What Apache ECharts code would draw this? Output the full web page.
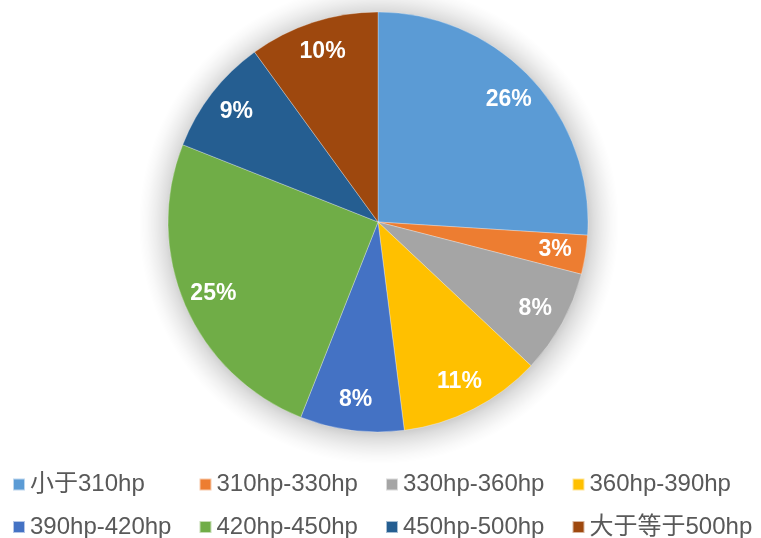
<!DOCTYPE html>
<html>
<head>
<meta charset="utf-8">
<script src="https://cdn.jsdelivr.net/npm/echarts@6/dist/echarts.min.js"></script>
<style>
  html, body { margin: 0; padding: 0; background: #fff; }
  #chart { width: 761px; height: 538px; }
</style>
</head>
<body>
<div id="chart"></div>
<script>
// Horsepower bands and their share (%)
const categories = ['小于310hp', '310hp-330hp', '330hp-360hp', '360hp-390hp',
                    '390hp-420hp', '420hp-450hp', '450hp-500hp', '大于等于500hp'];
const shares = [26, 3, 8, 11, 8, 25, 9, 10];
const colors = ['#5B9BD5', '#ED7D31', '#A5A5A5', '#FFC000',
                '#4472C4', '#70AD47', '#255E91', '#9E480E'];

const center = [378, 222];
const R = 210;
const haloWidth = 30;     // width of the soft shadow around the disc
const labelRatio = 0.84;  // labels sit at this fraction of the radius

const pieData = categories.map((name, i) => ({ name, value: shares[i] }));
const total = shares.reduce((a, b) => a + b, 0);

const haloR = R + haloWidth;
const edge = R / haloR;

const chart = echarts.init(document.getElementById('chart'));
chart.setOption({
  animation: false,
  color: colors,
  legend: {
    left: 12,
    top: 471,
    width: 750,
    padding: 0,
    orient: 'horizontal',
    icon: 'rect',
    itemWidth: 12,
    itemHeight: 12,
    itemGap: 15.5,
    textStyle: {
      color: '#595959',
      fontSize: 24,
      lineHeight: 27,
      width: 153,
      fontFamily: '"Liberation Sans", Arial, "Noto Sans CJK SC", sans-serif'
    },
    data: categories
  },
  series: [
    {
      // coloured slices
      type: 'pie',
      z: 3,
      center: center,
      radius: [0, R],
      startAngle: 90,
      clockwise: true,
      silent: true,
      label: { show: false },
      labelLine: { show: false },
      itemStyle: { borderColor: 'rgba(255,255,255,0.6)', borderWidth: 0.5 },
      data: pieData
    },
    {
      // soft shadow halo beneath the disc
      type: 'pie',
      z: 1,
      center: [center[0] + 1, center[1] + 2],
      radius: [0, haloR],
      silent: true,
      label: { show: false },
      labelLine: { show: false },
      itemStyle: {
        borderWidth: 0,
        color: {
          type: 'radial', x: 0.5, y: 0.5, r: 0.5,
          colorStops: [
            { offset: 0, color: 'rgba(0,0,0,0.2)' },
            { offset: edge - 0.01, color: 'rgba(0,0,0,0.2)' },
            { offset: edge + 0.02, color: 'rgba(0,0,0,0.13)' },
            { offset: edge + (1 - edge) * 0.45, color: 'rgba(0,0,0,0.07)' },
            { offset: edge + (1 - edge) * 0.75, color: 'rgba(0,0,0,0.025)' },
            { offset: 1, color: 'rgba(0,0,0,0)' }
          ]
        }
      },
      data: [{ name: 'halo', value: total }]
    },
    {
      // percentage labels
      type: 'pie',
      z: 4,
      center: center,
      radius: [0, 2 * labelRatio * R],
      startAngle: 90,
      silent: true,
      itemStyle: { color: 'rgba(0,0,0,0)', borderWidth: 0 },
      labelLine: { show: false },
      label: {
        show: true,
        position: 'inside',
        formatter: p => p.value + '%',
        color: '#ffffff',
        fontSize: 23,
        fontWeight: 'bold',
        fontFamily: '"Liberation Sans", Arial, sans-serif'
      },
      data: pieData
    }
  ]
});
</script>
</body>
</html>
